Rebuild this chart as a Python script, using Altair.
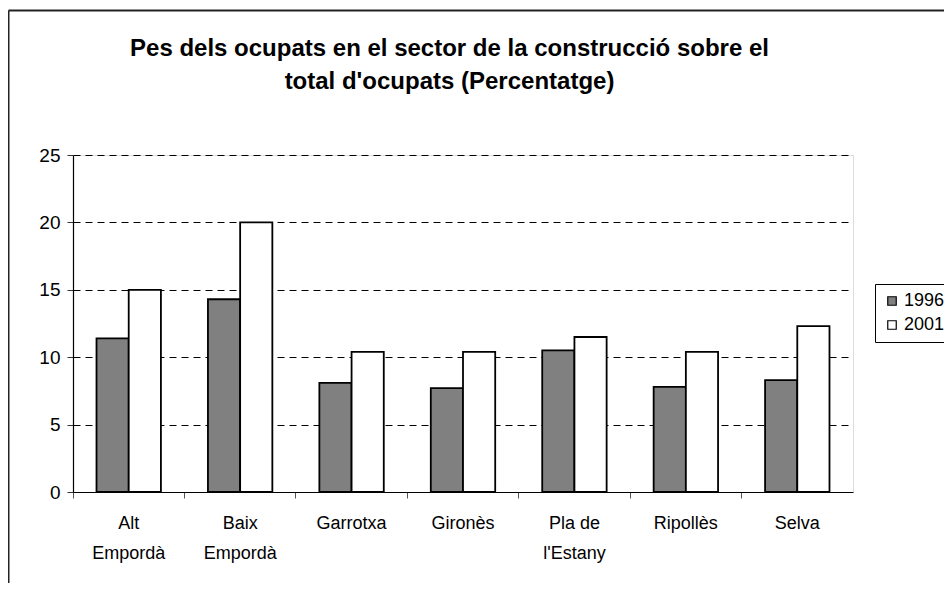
import altair as alt
import pandas as pd

comarques = ["Alt Empordà", "Baix Empordà", "Garrotxa", "Gironès", "Pla de l'Estany", "Ripollès", "Selva"]
anys = ["1996", "2001"]
valors_1996 = [11.4, 14.3, 8.1, 7.7, 10.5, 7.8, 8.3]
valors_2001 = [15.0, 20.0, 10.4, 10.4, 11.5, 10.4, 12.3]
y_ticks = [0, 5, 10, 15, 20, 25]
titol = ["Pes dels ocupats en el sector de la construcció sobre el", "total d'ocupats (Percentatge)"]

rows = []
for c, a, b in zip(comarques, valors_1996, valors_2001):
    rows.append({"comarca": c, "any": anys[0], "valor": a})
    rows.append({"comarca": c, "any": anys[1], "valor": b})
df = pd.DataFrame(rows)
one = pd.DataFrame({"k": [0]})

FONT = "Liberation Sans"
W, H = 780, 337

label_expr = ("indexof(datum.label, ' ') > 0 ? [substring(datum.label, 0, lastindexof(datum.label, ' ')), "
              "substring(datum.label, lastindexof(datum.label, ' ') + 1)] : datum.label")

bars = alt.Chart(df).mark_bar(stroke="black", strokeWidth=1.8).encode(
    x=alt.X("comarca:N", sort=comarques, title=None,
            scale=alt.Scale(paddingInner=0, paddingOuter=0),
            axis=alt.Axis(labelAngle=0, labelExpr=label_expr, labelFont=FONT, labelFontSize=18,
                          labelColor="black", labelLineHeight=30, labelPadding=16,
                          domainColor="black", domainWidth=1.2, tickColor="#555", tickSize=6,
                          bandPosition=0, grid=False)),
    xOffset=alt.XOffset("any:N", sort=anys, scale=alt.Scale(paddingInner=0, paddingOuter=0.73)),
    y=alt.Y("valor:Q", title=None,
            scale=alt.Scale(domain=[0, 25], nice=False),
            axis=alt.Axis(values=y_ticks, labelFont=FONT, labelFontSize=19, labelColor="black",
                          labelPadding=7, tickSize=6, tickColor="#333", domainColor="black",
                          domainWidth=1.2, grid=True, gridColor="black", gridDash=[7, 5],
                          gridWidth=1)),
    fill=alt.Fill("any:N", sort=anys, scale=alt.Scale(domain=anys, range=["#808080", "#ffffff"]),
                  legend=alt.Legend(title=None, orient="none", legendX=802, legendY=129,
                                    symbolType="square", symbolSize=72, symbolStrokeColor="black",
                                    symbolStrokeWidth=1.2, labelFont=FONT, labelFontSize=18,
                                    labelColor="black", strokeColor="black", fillColor="white",
                                    padding=8, rowPadding=6, labelOffset=3)),
)

frame_top = alt.Chart(one).mark_rule(color="#222", strokeWidth=2).encode(
    x=alt.value(-64.5), x2=alt.value(1000), y=alt.value(-144.5))
frame_left = alt.Chart(one).mark_rule(color="#222", strokeWidth=2).encode(
    x=alt.value(-64.5), y=alt.value(-144.5), y2=alt.value(700))

title_text = alt.Chart(one).mark_text(
    text=titol, font=FONT, fontSize=24, fontWeight="bold", color="black",
    align="center", baseline="alphabetic", lineHeight=33,
).encode(x=alt.value(376.5), y=alt.value(-99))

chart = alt.layer(frame_top, frame_left, bars, title_text).properties(
    width=W, height=H,
    autosize=alt.AutoSizeParams(type="none"),
    padding={"left": 65, "top": 147, "right": 91, "bottom": 91},
).configure_view(stroke="#808080", strokeWidth=1).configure(background="white")

chart.save("out.html", embed_options={"renderer": "svg", "actions": False})
